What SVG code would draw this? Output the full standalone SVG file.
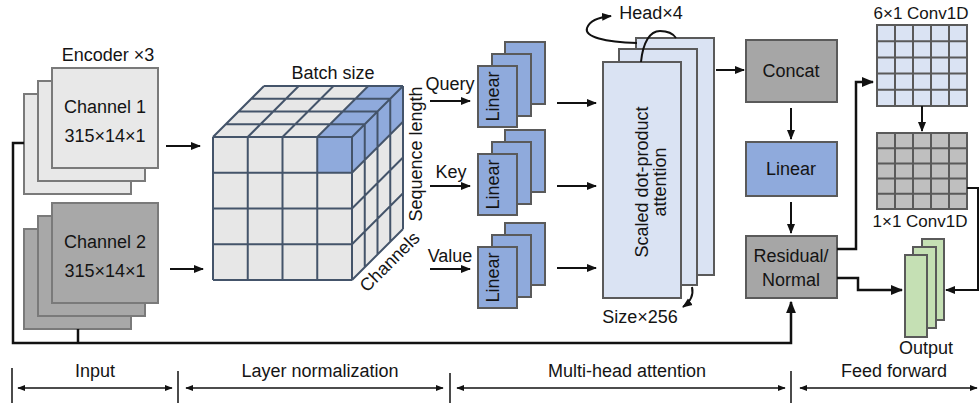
<svg xmlns="http://www.w3.org/2000/svg" width="979" height="403" viewBox="0 0 979 403">
  <defs>
    <marker id="ah" viewBox="0 0 10 10" refX="9" refY="5" markerWidth="5" markerHeight="5" orient="auto" markerUnits="strokeWidth">
      <path d="M0,1 L10,5 L0,9 z" fill="#111"/>
    </marker>
    <marker id="ahs" viewBox="0 0 10 10" refX="9" refY="5" markerWidth="6" markerHeight="6" orient="auto" markerUnits="strokeWidth">
      <path d="M0,1 L10,5 L0,9 z" fill="#111"/>
    </marker>
    <marker id="ahStart" viewBox="0 0 10 10" refX="1" refY="5" markerWidth="6" markerHeight="6" orient="auto" markerUnits="strokeWidth">
      <path d="M10,1 L0,5 L10,9 z" fill="#111"/>
    </marker>
  </defs>
  <style>
    text { font-family: "Liberation Sans", Arial, sans-serif; font-size: 18px; fill: #141414; }
    .mid { text-anchor: middle; }
    .in1 { fill: #e8e8e8; stroke: #7a7a7a; stroke-width: 2; }
    .in2 { fill: #a8a8a8; stroke: #7a7a7a; stroke-width: 2; }
    .lin { fill: #8faadc; stroke: #5a5a5a; stroke-width: 2; }
    .att { fill: #dae3f3; stroke: #5a5a5a; stroke-width: 2; }
    .gry { fill: #a6a6a6; stroke: #5a5a5a; stroke-width: 2; }
    .grn { fill: #c5e0b4; stroke: #5a5a5a; stroke-width: 2; }
    .conv1 { fill: #dae3f3; stroke: #5a5a5a; stroke-width: 2; }
    .conv2 { fill: #bfbfbf; stroke: #5a5a5a; stroke-width: 2; }
    .cubeface { fill: #e7e7e7; stroke: none; }
    .cubeblue { fill: #8faadc; stroke: none; }
    .grid { stroke: #44546a; stroke-width: 2; fill: none; }
    .conn { stroke: #111; stroke-width: 2.5; fill: none; }
    .arr { stroke: #111; stroke-width: 2; fill: none; marker-end: url(#ah); }
    .axis { stroke: #111; stroke-width: 1.5; fill: none; }
    .dbl { stroke: #111; stroke-width: 1.3; fill: none; marker-start: url(#ahStart); marker-end: url(#ahs); }
  </style>

  <!-- Input channels -->
  <g id="channel1">
    <text class="mid" x="108" y="61">Encoder ×3</text>
    <rect class="in1" x="24" y="94" width="107" height="100"/>
    <rect class="in1" x="38" y="81" width="107" height="100"/>
    <rect class="in1" x="52" y="68" width="106" height="100"/>
    <text class="mid" x="105" y="113">Channel 1</text>
    <text class="mid" x="105" y="142">315×14×1</text>
  </g>
  <g id="channel2">
    <rect class="in2" x="24" y="229" width="107" height="100"/>
    <rect class="in2" x="38" y="216" width="107" height="100"/>
    <rect class="in2" x="52" y="203" width="106" height="100"/>
    <text class="mid" x="105" y="248">Channel 2</text>
    <text class="mid" x="105" y="277">315×14×1</text>
  </g>

  <!-- Layer normalization cube: 4x4x4 -->
  <g id="cube">
    <text class="mid" x="333" y="79">Batch size</text>
    <polygon class="cubeface" points="213,137 352,137 352,280 213,280"/>
    <polygon class="cubeface" points="213,137 352,137 403,86 264,86"/>
    <polygon class="cubeface" points="352,137 403,86 403,229 352,280"/>
    <polygon class="cubeblue" points="317.25,137 352,137 403,86 368.25,86"/>
    <polygon class="cubeblue" points="352,137 403,86 403,121.75 352,172.75"/>
    <rect class="cubeblue" x="317.25" y="137" width="34.75" height="35.75"/>
    <path class="grid" d="
      M213,137 V280 M247.75,137 V280 M282.5,137 V280 M317.25,137 V280 M352,137 V280
      M213,137 H352 M213,172.75 H352 M213,208.5 H352 M213,244.25 H352 M213,280 H352
      M213,137 L264,86 M247.75,137 L298.75,86 M282.5,137 L333.5,86 M317.25,137 L368.25,86 M352,137 L403,86
      M225.75,124.25 H364.75 M238.5,111.5 H377.5 M251.25,98.75 H390.25 M264,86 H403
      M364.75,124.25 V267.25 M377.5,111.5 V254.5 M390.25,98.75 V241.75 M403,86 V229
      M352,172.75 L403,121.75 M352,208.5 L403,157.5 M352,244.25 L403,193.25 M352,280 L403,229"/>
    <text class="mid" transform="translate(422,154) rotate(-90)">Sequence length</text>
    <text class="mid" transform="translate(394,266) rotate(-45)">Channels</text>
  </g>

  <!-- Linear projections -->
  <g id="linear-query">
    <text class="mid" x="450" y="90">Query</text>
    <rect class="lin" x="505" y="42" width="40" height="62"/>
    <rect class="lin" x="492" y="54" width="39" height="62"/>
    <rect class="lin" x="478" y="66" width="39" height="61"/>
    <text class="mid" transform="translate(499,96.5) rotate(-90)">Linear</text>
  </g>
  <g id="linear-key">
    <text class="mid" x="451" y="178">Key</text>
    <rect class="lin" x="505" y="130" width="40" height="62"/>
    <rect class="lin" x="492" y="142" width="39" height="62"/>
    <rect class="lin" x="478" y="154" width="39" height="61"/>
    <text class="mid" transform="translate(499,184.5) rotate(-90)">Linear</text>
  </g>
  <g id="linear-value">
    <text class="mid" x="450" y="262">Value</text>
    <rect class="lin" x="505" y="223" width="40" height="62"/>
    <rect class="lin" x="492" y="235" width="39" height="62"/>
    <rect class="lin" x="478" y="247" width="39" height="61"/>
    <text class="mid" transform="translate(499,277.5) rotate(-90)">Linear</text>
  </g>

  <!-- Scaled dot-product attention, 4 heads -->
  <g id="attention">
    <rect class="att" x="636" y="38" width="78" height="237"/>
    <rect class="att" x="619" y="49" width="78" height="236"/>
    <rect class="att" x="603" y="62" width="78" height="236"/>
    <text class="mid" transform="translate(648,182) rotate(-90)">Scaled dot-product</text>
    <text class="mid" transform="translate(666,182) rotate(-90)">attention</text>
    <text class="mid" x="651" y="19">Head×4</text>
    <path d="M637,43 C605,42 584,37 587,28 C590,20 600,17 611,16" stroke="#111" stroke-width="2" fill="none" marker-end="url(#ah)"/>
    <path d="M641,62 C643,42 650,31 660,31 C669,31 674,35 676,38" stroke="#111" stroke-width="2" fill="none"/>
    <text class="mid" x="640" y="323">Size×256</text>
    <path d="M692,287 C694,296 690,302 683,307" stroke="#111" stroke-width="2" fill="none" marker-end="url(#ah)"/>
  </g>

  <g id="concat">
    <rect class="gry" x="746" y="40" width="91" height="62"/>
    <text class="mid" x="791" y="77">Concat</text>
  </g>
  <g id="linear-out">
    <rect class="lin" x="746" y="142" width="91" height="54"/>
    <text class="mid" x="791" y="175">Linear</text>
  </g>
  <g id="residual">
    <rect class="gry" x="746" y="236" width="91" height="62"/>
    <text class="mid" x="791" y="262">Residual/</text>
    <text class="mid" x="791" y="286">Normal</text>
  </g>

  <!-- Feed forward -->
  <g id="conv6x1">
    <text class="mid" x="921" y="19" style="font-size:17px">6×1 Conv1D</text>
    <rect class="conv1" x="877" y="25" width="90" height="81"/>
    <path class="conv1" d="M895,25 V106 M913,25 V106 M931,25 V106 M949,25 V106 M877,41.2 H967 M877,57.4 H967 M877,73.6 H967 M877,89.8 H967"/>
  </g>
  <g id="conv1x1">
    <rect class="conv2" x="877" y="133" width="90" height="76"/>
    <path class="conv2" d="M895,133 V209 M913,133 V209 M931,133 V209 M949,133 V209 M877,148.2 H967 M877,163.4 H967 M877,178.6 H967 M877,193.8 H967"/>
    <text class="mid" x="920" y="227" style="font-size:17px">1×1 Conv1D</text>
  </g>
  <g id="output">
    <rect class="grn" x="922" y="239" width="22" height="81"/>
    <rect class="grn" x="913" y="247" width="23" height="81"/>
    <rect class="grn" x="905" y="255" width="22" height="82"/>
    <text class="mid" x="926" y="354">Output</text>
  </g>

  <!-- Connectors -->
  <g id="connectors">
    <line class="arr" x1="166" y1="146" x2="200" y2="146"/>
    <line class="arr" x1="170" y1="269" x2="203" y2="269"/>
    <line class="arr" x1="430" y1="101" x2="470" y2="101"/>
    <line class="arr" x1="430" y1="186" x2="470" y2="186"/>
    <line class="arr" x1="430" y1="269" x2="470" y2="269"/>
    <line class="arr" x1="557" y1="103" x2="596" y2="103"/>
    <line class="arr" x1="557" y1="186" x2="596" y2="186"/>
    <line class="arr" x1="557" y1="268" x2="596" y2="268"/>
    <line class="arr" x1="716" y1="70" x2="744" y2="70"/>
    <line class="arr" x1="791" y1="108" x2="791" y2="139"/>
    <line class="arr" x1="791" y1="202" x2="791" y2="233"/>
    <path class="conn" d="M24,143 H13 V343 H791 V302" marker-end="url(#ah)"/>
    <path class="conn" d="M78,329 V343"/>
    <path class="conn" d="M837,249 H856 V82 H873" marker-end="url(#ah)"/>
    <path class="conn" d="M837,278 H858 V290 H902" marker-end="url(#ah)"/>
    <line class="arr" x1="922" y1="106" x2="922" y2="131"/>
    <path class="conn" d="M967,188 H978 V290 H946" style="stroke-width:2" marker-end="url(#ah)"/>
  </g>

  <!-- Stage axis -->
  <g id="stages">
    <path class="axis" d="M12,368 V403 M178,371 V403 M450,373 V403 M791,371 V403"/>
    <line class="dbl" x1="18" y1="388" x2="172" y2="388"/>
    <line class="dbl" x1="186" y1="388" x2="443" y2="388"/>
    <line class="dbl" x1="457" y1="388" x2="785" y2="388"/>
    <line class="dbl" x1="800" y1="388" x2="977" y2="388"/>
    <text class="mid" x="95" y="377">Input</text>
    <text class="mid" x="320" y="377">Layer normalization</text>
    <text class="mid" x="627" y="377">Multi-head attention</text>
    <text class="mid" x="894" y="377">Feed forward</text>
  </g>
</svg>
